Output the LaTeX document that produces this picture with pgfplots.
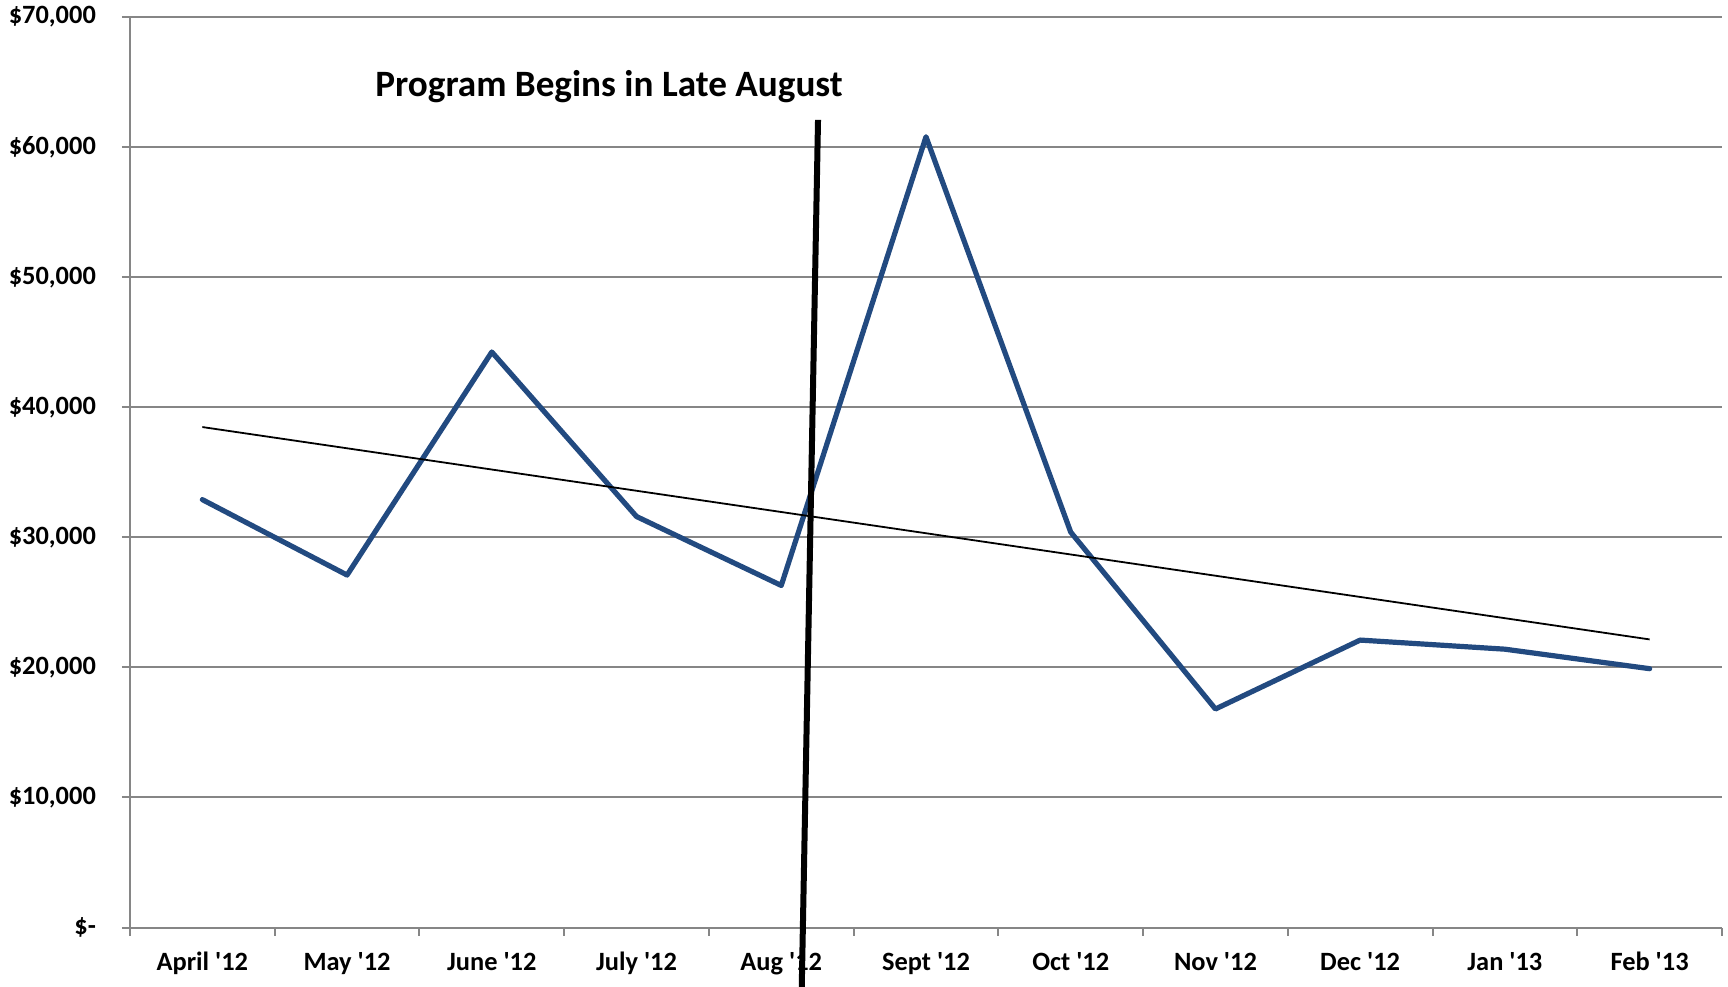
\documentclass[border=0pt]{standalone}
\usepackage{pgfplots}
\pgfplotsset{compat=1.18}
\usepackage{fontspec}
\setmainfont{Carlito}[Ligatures=TeXOff]
\definecolor{gridgray}{RGB}{134,134,134}
\definecolor{lineblue}{RGB}{34,74,128}
\begin{document}
\begin{tikzpicture}
\begin{axis}[
  scale only axis,
  width=398pt, height=227.6pt,
  xmin=-0.5, xmax=10.5, ymin=0, ymax=70000,
  axis lines*=left,
  axis line style={gridgray, line width=0.5pt},
  clip=false,
  xtick={0,...,10},
  xticklabels={April '12,May '12,June '12,July '12,Aug '12,Sept '12,Oct '12,Nov '12,Dec '12,Jan '13,Feb '13},
  major x tick style={draw=none},
  minor xtick={-0.5,0.5,...,10.5},
  minor x tick style={gridgray, line width=0.5pt},
  minor tick length=2pt,
  ytick={0,10000,...,70000},
  yticklabels={{\$-},{\$10,000},{\$20,000},{\$30,000},{\$40,000},{\$50,000},{\$60,000},{\$70,000}},
  major y tick style={gridgray, line width=0.5pt},
  major tick length=2pt,
  tick align=outside,
  ymajorgrids,
  grid style={gridgray, line width=0.5pt},
  tick label style={font=\bfseries\fontsize{6.6}{8}\selectfont, text=black},
  xticklabel style={yshift=-0.7pt},
  yticklabel style={xshift=-3pt},
  /pgf/number format/assume math mode=true,
]
\addplot[lineblue, line width=1.3pt, line join=round, line cap=round] coordinates {
  (0,32900) (1,27100) (2,44250) (3,31600) (4,26300) (5,60800) (6,30400) (7,16800) (8,22100) (9,21400) (10,19900)
};
\addplot[black, line width=0.45pt] coordinates {(0,38480) (10,22150)};
\addplot[black, line width=1.5pt] coordinates {(4.254,62100) (4.14,-5500)};
\node[anchor=base, font=\bfseries\fontsize{9.3}{11}\selectfont] at (axis cs:2.81,63900) {Program Begins in Late August};
\end{axis}
\pgfresetboundingbox
\path (-32.5pt,-14.875pt) rectangle (399.5pt,231.875pt);
\end{tikzpicture}
\end{document}
